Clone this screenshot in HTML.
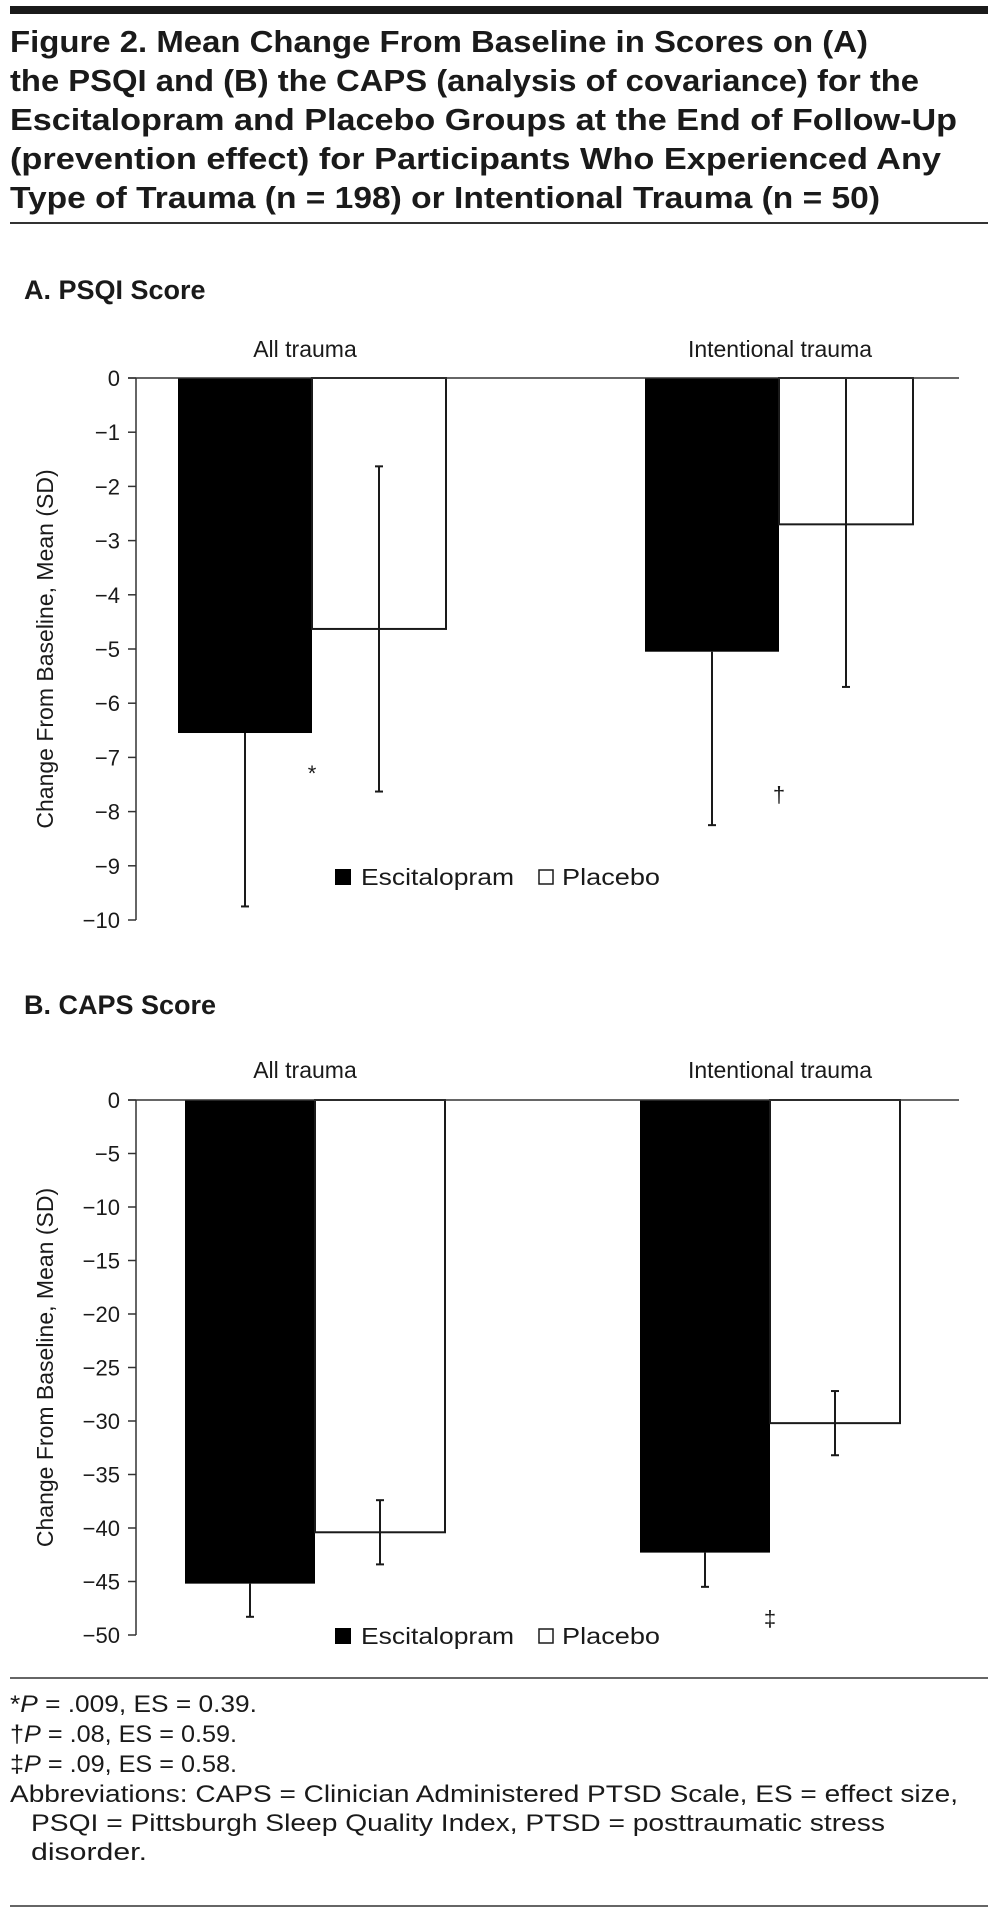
<!DOCTYPE html>
<html><head><meta charset="utf-8"><style>
html,body{margin:0;padding:0;background:#fff;}
svg{display:block;font-family:"Liberation Sans",sans-serif;}
</style></head><body>
<svg id="fig" width="1002" height="1925" viewBox="0 0 1002 1925">
<rect x="10" y="6" width="978" height="8" fill="#1a1a1a"/>
<g font-weight="bold" font-size="31" fill="#1a1a1a">
<text x="10" y="52" textLength="858" lengthAdjust="spacingAndGlyphs">Figure 2. Mean Change From Baseline in Scores on (A)</text>
<text x="10" y="91" textLength="909" lengthAdjust="spacingAndGlyphs">the PSQI and (B) the CAPS (analysis of covariance) for the</text>
<text x="10" y="130" textLength="947" lengthAdjust="spacingAndGlyphs">Escitalopram and Placebo Groups at the End of Follow-Up</text>
<text x="10" y="169" textLength="931" lengthAdjust="spacingAndGlyphs">(prevention effect) for Participants Who Experienced Any</text>
<text x="10" y="208" textLength="870" lengthAdjust="spacingAndGlyphs">Type of Trauma (n = 198) or Intentional Trauma (n = 50)</text>
</g>
<line x1="10" y1="223" x2="988" y2="223" stroke="#333" stroke-width="2"/>
<g id="panelA"></g>
<g id="panelB"></g>
<line x1="10" y1="1678" x2="988" y2="1678" stroke="#333" stroke-width="1.5"/>
<g font-size="24" fill="#1a1a1a">
<text x="10" y="1712" textLength="247" lengthAdjust="spacingAndGlyphs">*<tspan font-style="italic">P</tspan> = .009, ES = 0.39.</text>
<text x="10" y="1742" textLength="227" lengthAdjust="spacingAndGlyphs">†<tspan font-style="italic">P</tspan> = .08, ES = 0.59.</text>
<text x="10" y="1772" textLength="227" lengthAdjust="spacingAndGlyphs">‡<tspan font-style="italic">P</tspan> = .09, ES = 0.58.</text>
<text x="10" y="1802" textLength="948" lengthAdjust="spacingAndGlyphs">Abbreviations: CAPS = Clinician Administered PTSD Scale, ES = effect size,</text>
<text x="31" y="1831" textLength="854" lengthAdjust="spacingAndGlyphs">PSQI = Pittsburgh Sleep Quality Index, PTSD = posttraumatic stress</text>
<text x="31" y="1860" textLength="116" lengthAdjust="spacingAndGlyphs">disorder.</text>
</g>
<line x1="10" y1="1906" x2="988" y2="1906" stroke="#333" stroke-width="1.5"/>
</svg>
<script>
const categories = ["All trauma", "Intentional trauma"];
const psqiEsc = [-6.55, -5.05];
const psqiEscSD = [3.2, 3.2];
const psqiPla = [-4.63, -2.7];
const psqiPlaSD = [3.0, 3.0];
const psqiTicks = [0, -1, -2, -3, -4, -5, -6, -7, -8, -9, -10];
const psqiMarks = ["*", "†"];
const capsEsc = [-45.2, -42.3];
const capsEscSD = [3.1, 3.2];
const capsPla = [-40.4, -30.2];
const capsPlaSD = [3.0, 3.0];
const capsTicks = [0, -5, -10, -15, -20, -25, -30, -35, -40, -45, -50];
const capsMarks = ["", "‡"];

const NS = "http://www.w3.org/2000/svg";
function mk(parent, tag, attrs, text) {
  const e = document.createElementNS(NS, tag);
  for (const k in attrs) e.setAttribute(k, attrs[k]);
  if (text !== undefined) e.textContent = text;
  parent.appendChild(e);
  return e;
}

function drawPanel(g, cfg) {
  const y = v => cfg.y0 + (v / cfg.min) * (cfg.yMin - cfg.y0);
  let t = mk(g, "text", {x: 24, y: cfg.titleY, "font-size": 27, "font-weight": "bold", fill: "#1a1a1a"}, cfg.title);
  
  
  // y-axis title
  const cy = (cfg.y0 + cfg.yMin) / 2;
  t = mk(g, "text", {x: 0, y: 0, "font-size": 23, fill: "#1a1a1a", "text-anchor": "middle", transform: `translate(53,${cy}) rotate(-90)`}, "Change From Baseline, Mean (SD)");
  
  
  // ticks
  cfg.ticks.forEach(v => {
    const yy = y(v);
    const l = mk(g, "line", {x1: 128, x2: 136, y1: yy, y2: yy, stroke: "#333", "stroke-width": 1.5});
    
    
    const lab = mk(g, "text", {x: 120, y: yy + 8, "font-size": 22, fill: "#1a1a1a", "text-anchor": "end"}, v === 0 ? "0" : "\u2212" + Math.abs(v));
    
    
  });
  // category labels
  categories.forEach((c, i) => {
    const lab = mk(g, "text", {x: cfg.catX[i], y: cfg.catY, "font-size": 23, fill: "#1a1a1a", "text-anchor": "middle"}, c);
    
    
  });
  // bars
  categories.forEach((c, i) => {
    const bx = cfg.barX[i];
    const bw = cfg.barW;
    const e = cfg.esc[i], p = cfg.pla[i];
    const eb = mk(g, "rect", {x: bx, y: y(0), width: bw, height: y(e) - y(0), fill: "#000"});
    
    
    const pb = mk(g, "rect", {x: bx + bw, y: y(0), width: bw, height: y(p) - y(0), fill: "#fff", stroke: "#1a1a1a", "stroke-width": 2});
    
    
    // error bars
    const ex = bx + bw / 2;
    const el = mk(g, "line", {x1: ex, x2: ex, y1: y(e), y2: y(e - cfg.escSD[i]), stroke: "#1a1a1a", "stroke-width": 2});
    
    
    mk(g, "line", {x1: ex - 4, x2: ex + 4, y1: y(e - cfg.escSD[i]), y2: y(e - cfg.escSD[i]), stroke: "#1a1a1a", "stroke-width": 2});
    const px = bx + bw * 1.5;
    const top = Math.min(0, p + cfg.plaSD[i]);
    const pl = mk(g, "line", {x1: px, x2: px, y1: y(top), y2: y(p - cfg.plaSD[i]), stroke: "#1a1a1a", "stroke-width": 2});
    
    
    mk(g, "line", {x1: px - 4, x2: px + 4, y1: y(p - cfg.plaSD[i]), y2: y(p - cfg.plaSD[i]), stroke: "#1a1a1a", "stroke-width": 2});
    if (top < 0) mk(g, "line", {x1: px - 4, x2: px + 4, y1: y(top), y2: y(top), stroke: "#1a1a1a", "stroke-width": 2});
    if (cfg.marks[i]) {
      const m = mk(g, "text", {x: bx + bw, y: cfg.markY[i], "font-size": 22, fill: "#1a1a1a", "text-anchor": "middle"}, cfg.marks[i]);
      
      
    }
  });
  // axes
  const ya = mk(g, "line", {x1: 136, x2: 136, y1: y(0), y2: y(cfg.min), stroke: "#333", "stroke-width": 1.5});
  
  
  const xa = mk(g, "line", {x1: 128, x2: 959, y1: y(0), y2: y(0), stroke: "#333", "stroke-width": 1.5});
  
  
  // legend
  const ly = cfg.legY;
  const lg = mk(g, "g", {});
  
  
  const s1 = mk(lg, "rect", {x: 335, y: ly - 16, width: 16, height: 16, fill: "#000"});
  
  
  const t1 = mk(lg, "text", {x: 361, y: ly, "font-size": 23, fill: "#1a1a1a", textLength: 153, lengthAdjust: "spacingAndGlyphs"}, "Escitalopram");
  
  
  const s2 = mk(lg, "rect", {x: 539, y: ly - 15, width: 14, height: 14, fill: "#fff", stroke: "#1a1a1a", "stroke-width": 1.5});
  
  
  const t2 = mk(lg, "text", {x: 562, y: ly, "font-size": 23, fill: "#1a1a1a", textLength: 98, lengthAdjust: "spacingAndGlyphs"}, "Placebo");
  
  
}

drawPanel(document.getElementById("panelA"), {
  title: "A. PSQI Score", titleY: 299, catY: 357, catX: [305, 780],
  y0: 378, yMin: 920, min: -10, ticks: psqiTicks,
  barX: [178, 645], barW: 134,
  esc: psqiEsc, escSD: psqiEscSD, pla: psqiPla, plaSD: psqiPlaSD,
  marks: psqiMarks, markY: [781, 802], legY: 885
});
drawPanel(document.getElementById("panelB"), {
  title: "B. CAPS Score", titleY: 1014, catY: 1078, catX: [305, 780],
  y0: 1100, yMin: 1635, min: -50, ticks: capsTicks,
  barX: [185, 640], barW: 130,
  esc: capsEsc, escSD: capsEscSD, pla: capsPla, plaSD: capsPlaSD,
  marks: capsMarks, markY: [0, 1626], legY: 1644
});
</script>
</body></html>
